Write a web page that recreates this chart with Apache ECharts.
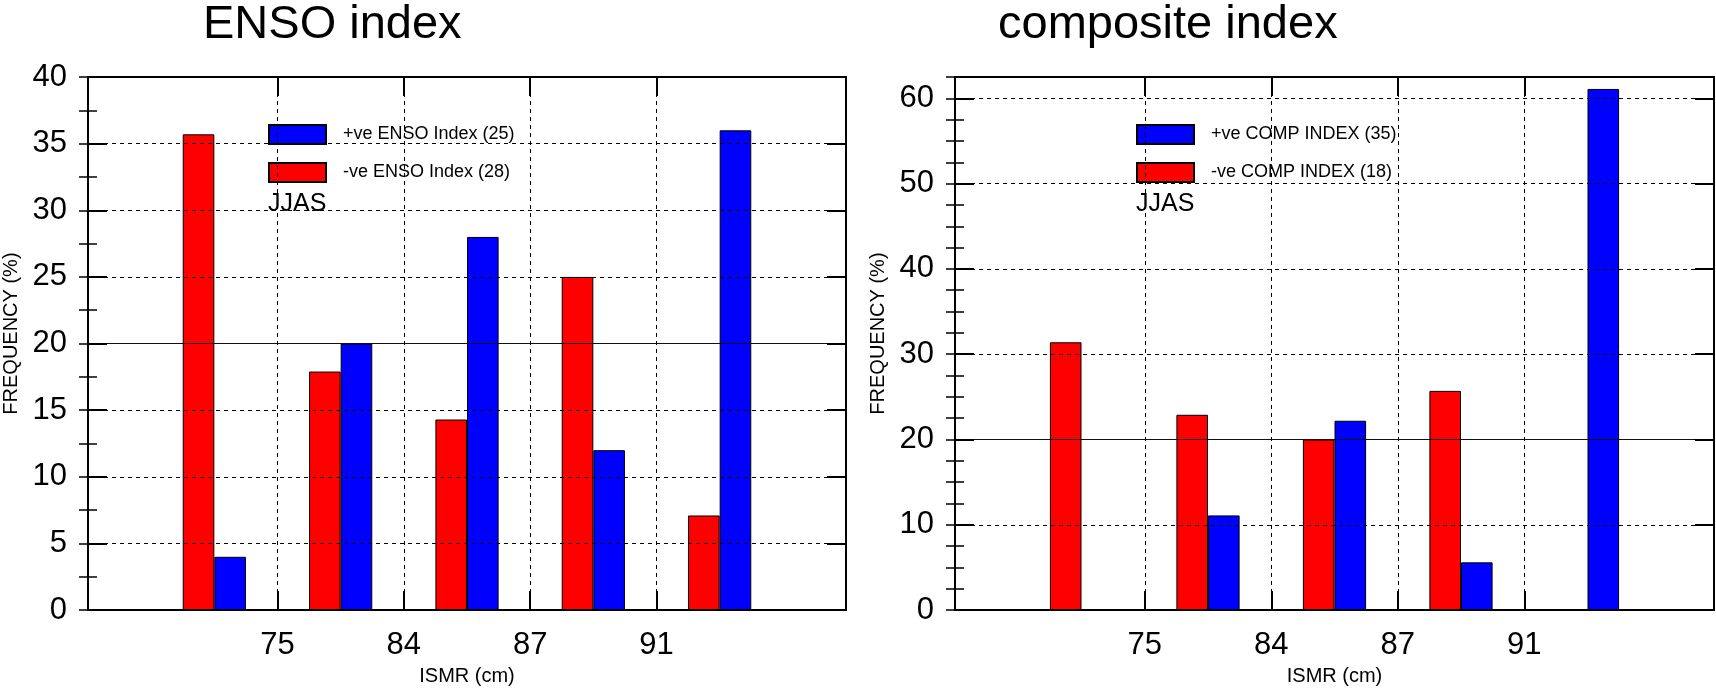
<!DOCTYPE html>
<html>
<head>
<meta charset="utf-8">
<script src="https://cdn.jsdelivr.net/npm/echarts@6/dist/echarts.min.js"></script>
<style>
  html, body { margin: 0; padding: 0; background: #fff; }
  #chart { width: 1716px; height: 691px; }
</style>
</head>
<body>
<div id="chart"></div>
<script>
// ISMR bin edges shown on the x axis (between the five rainfall classes)
const ismrEdges = ['75', '84', '87', '91'];

// Frequency (%) of each ISMR class, ENSO index panel
const ensoPos = [4, 20, 28, 12, 36];
const ensoNeg = [35.7, 17.9, 14.3, 25.0, 7.1];

// Frequency (%) of each ISMR class, composite index panel
const compPos = [0, 11.1, 22.2, 5.6, 61.1];
const compNeg = [31.4, 22.9, 20.0, 25.7, 0];

const ensoNames = ['+ve ENSO Index (25)', '-ve ENSO Index (28)'];
const compNames = ['+ve COMP INDEX (35)', '-ve COMP INDEX (18)'];
const panelTitles = ['ENSO index', 'composite index'];
const seasonLabel = 'JJAS';
const yName = 'FREQUENCY (%)';
const xName = 'ISMR (cm)';

const FONT = '"Liberation Sans", Arial, Helvetica, sans-serif';
const RED = '#ff0000';
const BLUE = '#0000ff';
const TICK_FONT = 31;

// class centres sit at 1..5, edges between them at 1.5..4.5
const edgePos = ismrEdges.map((_, i) => i + 1.5);
const toPoints = arr => arr.map((v, i) => [i + 1, v]);

const panels = [
  { left: 87, yMax: 40, yStep: 5, pos: ensoPos, neg: ensoNeg, names: ensoNames, title: panelTitles[0], titleLeft: 203 },
  { left: 955, yMax: 62.5, yStep: 10, pos: compPos, neg: compNeg, names: compNames, title: panelTitles[1], titleLeft: 998 }
];

const grids = [], xAxes = [], yAxes = [], series = [], legends = [], graphics = [];

const frameLine = { show: true, onZero: false, lineStyle: { color: '#000', width: 2 } };
const dashed = { show: true, lineStyle: { color: '#000', width: 1, type: [4, 4] } };

panels.forEach((p, k) => {
  grids.push({ left: p.left, top: 77, width: 759, height: 536, containLabel: false });

  // bottom axis: class edges, labels and vertical grid
  xAxes.push({
    type: 'value', gridIndex: k, position: 'bottom', min: 0, max: 6, z: 5,
    axisLine: frameLine,
    axisTick: { show: true, inside: true, length: 19, customValues: edgePos, lineStyle: { color: '#000', width: 2 } },
    axisLabel: {
      show: true, customValues: edgePos, margin: 20,
      formatter: v => ismrEdges[Math.round(v - 1.5)],
      fontSize: TICK_FONT, color: '#000', fontFamily: FONT
    },
    splitLine: dashed,
    name: xName, nameLocation: 'middle', nameGap: 52,
    nameTextStyle: { fontSize: 20, color: '#000', fontFamily: FONT }
  });
  // top frame with mirrored ticks
  xAxes.push({
    type: 'value', gridIndex: k, position: 'top', min: 0, max: 6, z: 5,
    axisLine: frameLine,
    axisTick: { show: true, inside: true, length: 19, customValues: edgePos, lineStyle: { color: '#000', width: 2 } },
    axisLabel: { show: false },
    splitLine: { show: false }
  });

  const base = k * 4;
  // left: labels, major ticks, horizontal grid
  yAxes.push({
    type: 'value', gridIndex: k, position: 'left', min: 0, max: p.yMax, interval: p.yStep, z: 5,
    axisLine: frameLine,
    axisTick: { show: true, inside: true, length: 19, lineStyle: { color: '#000', width: 2 } },
    axisLabel: { show: true, margin: 21, fontSize: TICK_FONT, color: '#000', fontFamily: FONT, showMaxLabel: p.yMax % p.yStep === 0 },
    splitLine: dashed,
    name: yName, nameLocation: 'middle', nameGap: 67,
    nameTextStyle: { fontSize: 20, color: '#000', fontFamily: FONT, padding: [0, 0, 0, 20] }
  });
  // left: minor ticks every 2.5
  yAxes.push({
    type: 'value', gridIndex: k, position: 'left', min: 0, max: p.yMax, interval: 2.5, z: 5,
    axisLine: { show: false },
    axisTick: { show: true, inside: true, length: 9, lineStyle: { color: '#000', width: 1.5 } },
    axisLabel: { show: false }, splitLine: { show: false }
  });
  // right frame, major ticks
  yAxes.push({
    type: 'value', gridIndex: k, position: 'right', min: 0, max: p.yMax, interval: p.yStep, z: 5,
    axisLine: frameLine,
    axisTick: { show: true, inside: true, length: 19, lineStyle: { color: '#000', width: 2 } },
    axisLabel: { show: false }, splitLine: { show: false }
  });
  // right frame, minor ticks
  yAxes.push({
    type: 'value', gridIndex: k, position: 'right', min: 0, max: p.yMax, interval: 2.5, z: 5,
    axisLine: { show: false },
    axisTick: { show: true, inside: true, length: 9, lineStyle: { color: '#000', width: 1.5 } },
    axisLabel: { show: false }, splitLine: { show: false }
  });

  const barCommon = {
    type: 'bar', xAxisIndex: k * 2, yAxisIndex: base,
    barWidth: 31.6, barGap: '0%', silent: true, animation: false
  };
  series.push(Object.assign({}, barCommon, {
    name: p.names[1], data: toPoints(p.neg),
    itemStyle: { color: RED, borderColor: '#000', borderWidth: 1 }
  }));
  series.push(Object.assign({}, barCommon, {
    name: p.names[0], data: toPoints(p.pos),
    itemStyle: { color: BLUE, borderColor: '#000', borderWidth: 1 }
  }));
  // solid reference line at 20 %
  series.push({
    type: 'line', xAxisIndex: k * 2, yAxisIndex: base, data: [], z: 6, silent: true, animation: false,
    markLine: {
      silent: true, symbol: 'none', label: { show: false }, animation: false,
      lineStyle: { color: '#111', width: 1, type: 'solid' },
      data: [{ yAxis: 20 }]
    }
  });

  legends.push({
    data: p.names, orient: 'vertical', left: p.left + 181, top: 124,
    itemWidth: 57, itemHeight: 19, itemGap: 17, icon: 'rect', padding: 0,
    selectedMode: false,
    textStyle: { fontSize: 18, color: '#000', fontFamily: FONT, padding: [0, 0, 0, 12] }
  });

  graphics.push({
    type: 'text', left: p.left + 181, top: 192,
    style: { text: seasonLabel, fontSize: 25, fill: '#000', fontFamily: FONT }
  });
  graphics.push({
    type: 'text', left: p.titleLeft, top: 2,
    style: { text: p.title, fontSize: 47, fill: '#000', fontFamily: FONT }
  });
});

const chart = echarts.init(document.getElementById('chart'), null, { renderer: 'canvas' });
chart.setOption({
  backgroundColor: '#fff',
  animation: false,
  grid: grids,
  xAxis: xAxes,
  yAxis: yAxes,
  legend: legends,
  graphic: graphics,
  series: series
});
</script>
</body>
</html>
